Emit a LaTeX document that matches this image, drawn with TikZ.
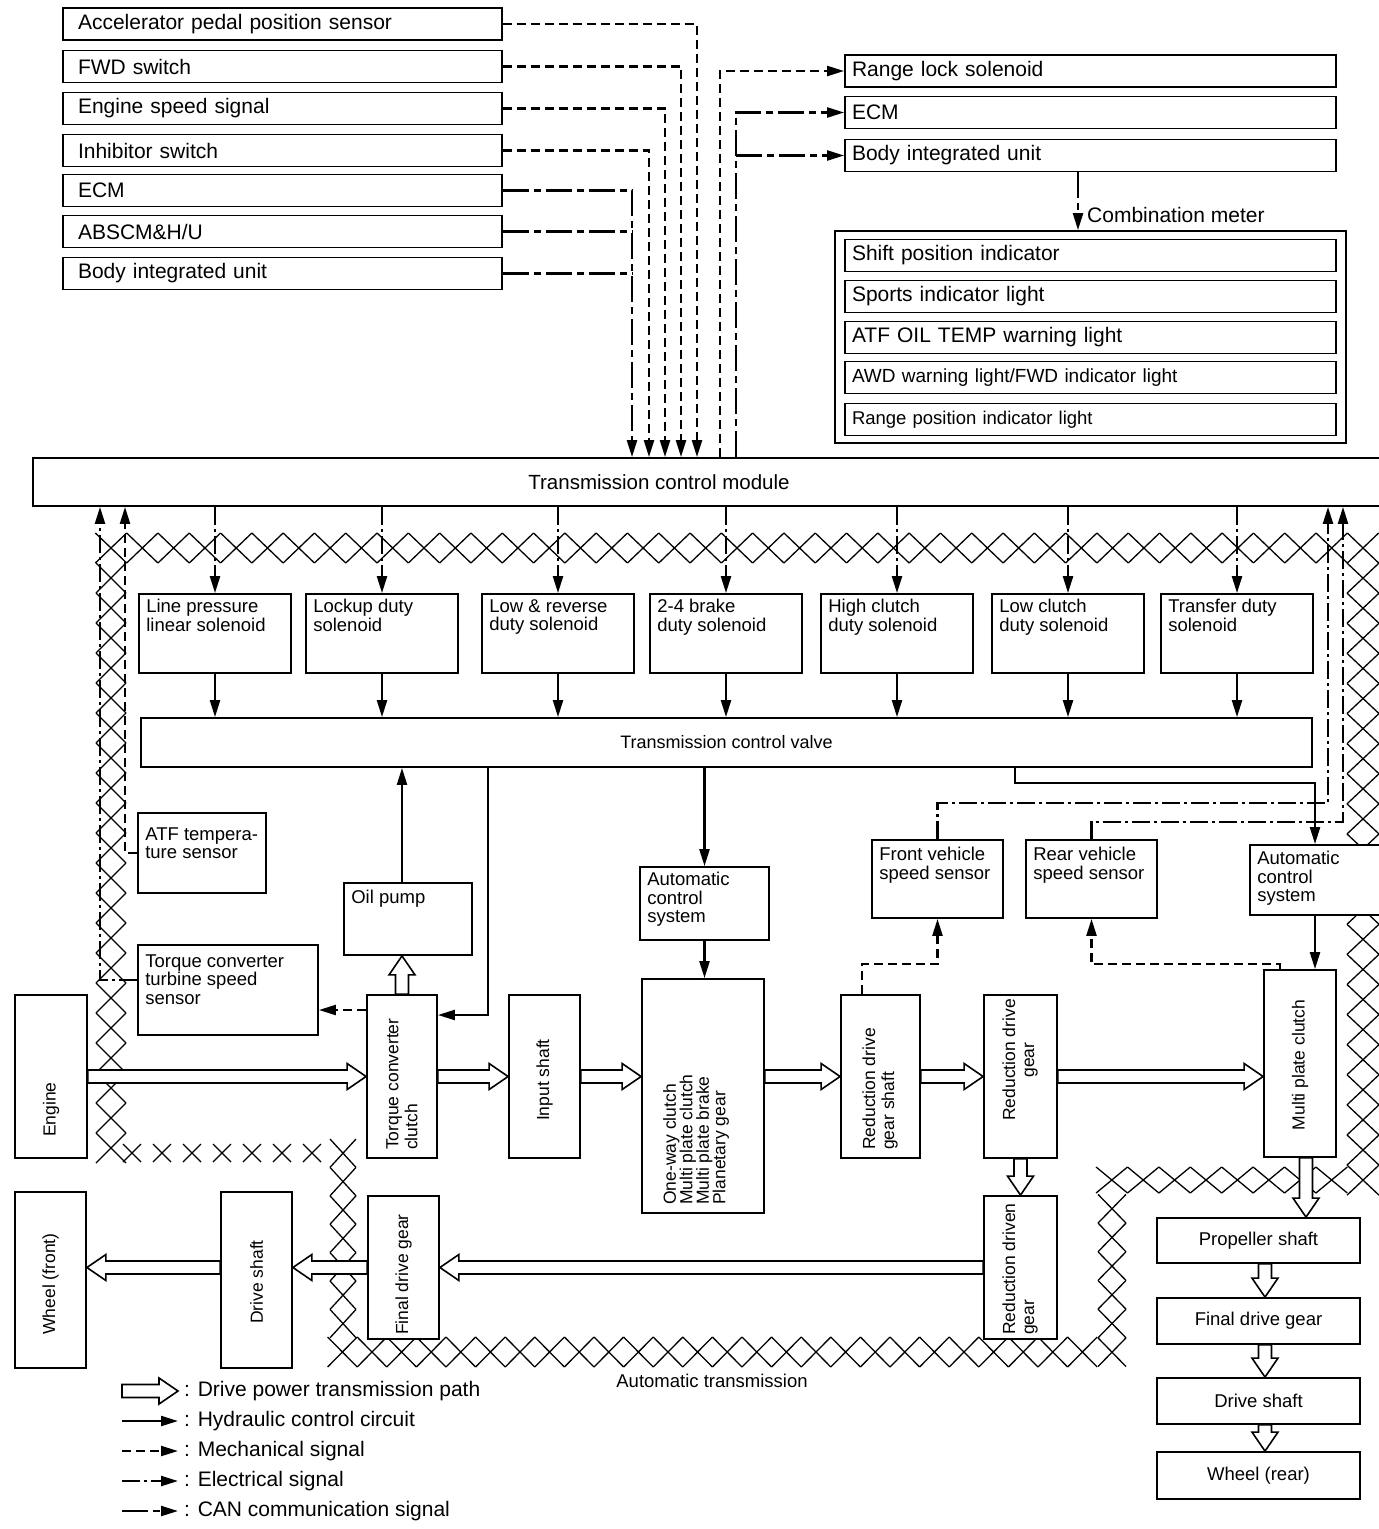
\documentclass[tikz,border=0pt]{standalone}
\usepackage{fontspec}
\setmainfont{Liberation Sans}
\usetikzlibrary{arrows.meta,calc}

\newcommand{\fbig}{\fontsize{21}{24}\selectfont}
\newcommand{\ftcm}{\fontsize{20.5}{23}\selectfont}
\newcommand{\fmid}{\fontsize{18.5}{18.5}\selectfont}
\newcommand{\fval}{\fontsize{18}{20}\selectfont}
\newcommand{\frot}{\fontsize{17.5}{19}\selectfont}
\newcommand{\fsmall}{\fontsize{19}{21}\selectfont}

% fila de cruces del rayado: inicio, paso, numero, semiancho
\newcommand{\hatchrow}[7]{%
  \foreach \k in {0,...,#5}
    \draw[hatch] ({#1+\k*#3-#6},{#2+\k*#4-#7}) -- ({#1+\k*#3+#6},{#2+\k*#4+#7})
                 ({#1+\k*#3-#6},{#2+\k*#4+#7}) -- ({#1+\k*#3+#6},{#2+\k*#4-#7});}

\begin{document}
\begin{tikzpicture}[x=1pt, y=-1pt,
    % estilos de cajas
    box/.style={draw, line width=1.8pt, fill=white, inner sep=0pt},
    inbox/.style={box, minimum height=32pt, text width=409pt, inner xsep=15pt, align=left, font=\fbig},
    outbox/.style={box, minimum height=32pt, text width=477pt, inner xsep=7pt, align=left, font=\fbig},
    sol/.style={box, minimum width=152pt, minimum height=79pt},
    lbltext/.style={anchor=north west, align=left, font=\fmid, inner xsep=8pt, inner ysep=6pt},
    lbl/.style={label={[lbltext]north west:#1}},
    vtext/.style={rotate=90, align=left, font=\frot, inner sep=0pt},
    % estilos de flechas
    hyd/.style={line width=2.3pt, -{Triangle[length=17pt,width=10pt]}},
    mech/.style={hyd, dash pattern=on 9pt off 5pt},
    elec/.style={hyd, dash pattern=on 18pt off 4pt on 3pt off 4pt},
    can/.style={hyd, dash pattern=on 26pt off 5pt on 7pt off 5pt},
    power/.style={draw, fill=white, line width=1.6pt, to path={
        let \p1=(\tikztostart), \p2=(\tikztotarget), \p3=($(\p2)!19pt!(\p1)$) in
        ($(\p1)!6.5pt!90:(\p2)$) -- ($(\p3)!6.5pt!90:(\p2)$) -- ($(\p3)!13pt!90:(\p2)$)
        -- (\p2) -- ($(\p3)!13pt!-90:(\p2)$) -- ($(\p3)!6.5pt!-90:(\p2)$)
        -- ($(\p1)!6.5pt!-90:(\p2)$) -- cycle}},
    hatch/.style={line width=1.3pt}
  ]
  \useasboundingbox (0,0) rectangle (1379,1529);

  % 1. Carcasa de la transmision (rayado)
  \hatchrow{111}{548}{31.3}{0}{40}{15.65}{15}
  \hatchrow{111}{578}{0}{30}{19}{15}{15}
  \hatchrow{1363}{578.1}{0}{30.1}{20}{16}{15.05}
  \hatchrow{1331.6}{1180}{-31.4}{0}{7}{15.7}{13}
  \hatchrow{1112}{1208.7}{0}{28.7}{5}{14}{14.35}
  \hatchrow{1082.4}{1352}{-29.6}{0}{25}{14.8}{15}
  \hatchrow{343}{1323.6}{0}{-28.4}{6}{13}{14.2}
  \hatchrow{132}{1153}{30}{0}{6}{9}{9}

  % 2. Entradas del TCM
  \node[inbox] (acc)    at (282.5,24)    {Accelerator pedal position sensor};
  \node[inbox] (fwd)    at (282.5,66.5)  {FWD switch};
  \node[inbox] (engsig) at (282.5,108.5) {Engine speed signal};
  \node[inbox] (inhib)  at (282.5,150.5) {Inhibitor switch};
  \node[inbox] (ecmin)  at (282.5,190.5) {ECM};
  \node[inbox] (abs)    at (282.5,231.5) {ABSCM\&H/U};
  \node[inbox] (bodyin) at (282.5,273.5) {Body integrated unit};

  % 3. Salidas del TCM y cuadro de instrumentos
  \node[outbox] (rls)     at (1090.5,71)    {Range lock solenoid};
  \node[outbox] (ecmout)  at (1090.5,112.5) {ECM};
  \node[outbox] (bodyout) at (1090.5,155.5) {Body integrated unit};
  \node[font=\fbig, anchor=west, inner sep=0pt] (cmt) at (1087,215) {Combination meter};
  \node[box, minimum width=511pt, minimum height=212pt] (cmf) at (1090.5,337) {};
  \node[outbox] (spi)  at (1090.5,255.5) {Shift position indicator};
  \node[outbox] (sil)  at (1090.5,296.5) {Sports indicator light};
  \node[outbox] (atfw) at (1090.5,337.5) {ATF OIL TEMP warning light};
  \node[outbox, font=\fsmall] (awd) at (1090.5,377.5) {AWD warning light/FWD indicator light};
  \node[outbox, font=\fmid]   (rpi) at (1090.5,419.5) {Range position indicator light};

  % 4. TCM, solenoides y valvula
  \node[box, minimum width=1357pt, minimum height=48pt,
        label={[font=\ftcm, xshift=-52.5pt]center:Transmission control module}] (tcm) at (711.5,482) {};
  \node[sol, lbl={Line pressure\\linear solenoid}] (lps) at (215,633.5) {};
  \node[sol, lbl={Lockup duty\\solenoid}]          (lus) at (382,633.5) {};
  \node[sol, lbl={Low \& reverse\\duty solenoid}]  (lrs) at (558,633.5) {};
  \node[sol, lbl={2-4 brake\\duty solenoid}]       (bks) at (726,633.5) {};
  \node[sol, lbl={High clutch\\duty solenoid}]     (hcs) at (897,633.5) {};
  \node[sol, lbl={Low clutch\\duty solenoid}]      (lcs) at (1068,633.5) {};
  \node[sol, lbl={Transfer duty\\solenoid}]        (tds) at (1237,633.5) {};
  \node[box, minimum width=1171pt, minimum height=49pt, font=\fval] (tcv) at (726.5,742.5) {Transmission control valve};

  % 5. Sensores y sistemas de control
  \node[box, minimum width=128pt, minimum height=80pt,
        label={[lbltext, inner ysep=15pt]north west:ATF tempera-\\ture sensor}] (atf) at (202,853) {};
  \node[box, minimum width=180pt, minimum height=90pt,
        label={[lbltext, inner ysep=10pt]north west:Torque converter\\turbine speed\\sensor}] (tts) at (228,990) {};
  \node[box, minimum width=128pt, minimum height=72pt,
        label={[lbltext, inner ysep=8pt]north west:Oil pump}] (oilp) at (408,919) {};
  \node[box, minimum width=129pt, minimum height=73pt,
        lbl={Automatic\\control\\system}] (acsm) at (704.5,903.5) {};
  \node[box, minimum width=131pt, minimum height=78pt,
        label={[lbltext, inner ysep=8pt]north west:Front vehicle\\speed sensor}] (fvs) at (937.5,879) {};
  \node[box, minimum width=131pt, minimum height=78pt,
        label={[lbltext, inner ysep=8pt]north west:Rear vehicle\\speed sensor}] (rvs) at (1091.5,879) {};
  \node[box, minimum width=130pt, minimum height=70pt,
        label={[lbltext, inner ysep=7pt]north west:Automatic\\control\\system}] (acsr) at (1315,880) {};

  % 6. Tren de potencia
  \node[box, minimum width=72pt, minimum height=163pt]  (eng)  at (51,1076.5) {};
  \node[box, minimum width=70pt, minimum height=163pt]  (tc)   at (402,1076.5) {};
  \node[box, minimum width=71pt, minimum height=163pt]  (inp)  at (544.5,1076.5) {};
  \node[box, minimum width=122pt, minimum height=234pt] (owc)  at (703,1096) {};
  \node[box, minimum width=79pt, minimum height=163pt]  (rdgs) at (880.5,1076.5) {};
  \node[box, minimum width=73pt, minimum height=163pt]  (rdg)  at (1020.5,1076.5) {};
  \node[box, minimum width=72pt, minimum height=187pt]  (mpc)  at (1300,1063.5) {};
  \node[box, minimum width=71pt, minimum height=176pt]  (wf)   at (50.5,1280) {};
  \node[box, minimum width=71pt, minimum height=176pt]  (dsf)  at (256.5,1280) {};
  \node[box, minimum width=71pt, minimum height=143pt]  (fdg)  at (403.5,1267.5) {};
  \node[box, minimum width=73pt, minimum height=143pt]  (rdng) at (1020.5,1267.5) {};
  \node[box, minimum width=203pt, minimum height=45pt, font=\fmid] (ps)   at (1258.5,1240.5) {Propeller shaft};
  \node[box, minimum width=203pt, minimum height=46pt, font=\fmid] (fdgr) at (1258.5,1321) {Final drive gear};
  \node[box, minimum width=203pt, minimum height=46pt, font=\fmid] (dsr)  at (1258.5,1401) {Drive shaft};
  \node[box, minimum width=203pt, minimum height=47pt, font=\fmid] (wr)   at (1258.5,1475.5) {Wheel (rear)};

  % textos girados
  \node[vtext, anchor=west] (engt)  at (51,1137)   {Engine};
  \node[vtext, anchor=west] (tct)   at (402,1150)  {Torque converter\\clutch};
  \node[vtext]              (inpt)  at (544.5,1080) {Input shaft};
  \node[vtext, anchor=west, font=\fontsize{17.5}{16.5}\selectfont] (owct) at (696,1205)
       {One-way clutch\\Multi plate clutch\\Multi plate brake\\Planetary gear};
  \node[vtext, anchor=west] (rdgst) at (880,1150)  {Reduction drive\\gear shaft};
  \node[vtext, align=center] (rdgt) at (1020,1060) {Reduction drive\\gear};
  \node[vtext]              (mpct)  at (1300,1065) {Multi plate clutch};
  \node[vtext]              (wft)   at (50.5,1284) {Wheel (front)};
  \node[vtext]              (dsft)  at (256.5,1282) {Drive shaft};
  \node[vtext, anchor=west] (fdgt)  at (403.5,1335) {Final drive gear};
  \node[vtext, anchor=west] (rdngt) at (1020,1335)  {Reduction driven\\gear};
  \node[font=\fmid, inner sep=0pt] (att) at (712,1381) {Automatic transmission};

  % 7. Conexiones de senales de entrada
  \draw[mech] (acc.east) -| (697,0 |- tcm.north);
  \draw[mech] (fwd.east) -| (681,0 |- tcm.north);
  \draw[mech] (engsig.east) -| (665,0 |- tcm.north);
  \draw[mech] (inhib.east) -| (649,0 |- tcm.north);
  \draw[can] (ecmin.east) -| (632,0 |- tcm.north);
  \draw[can, -] (abs.east) -- (abs.east -| 632,0);
  \draw[can, -] (bodyin.east) -- (bodyin.east -| 632,0);

  % Conexiones de salida
  \draw[mech] (720,0 |- tcm.north) |- (rls.west);
  \draw[can] (736,0 |- tcm.north) |- (ecmout.west);
  \draw[can] (bodyout.west -| 736,0) -- (bodyout.west);
  \draw[can] (bodyout.south -| 1078,0) -- (cmf.north -| 1078,0);

  % TCM a solenoides y solenoides a la valvula
  \foreach \s in {lps,lus,lrs,bks,hcs,lcs,tds}{
    \draw[elec] (tcm.south -| \s) -- (\s.north);
    \draw[hyd] (\s.south) -- (\s.south |- tcv.north);
  }

  % Sensores al TCM
  \draw[mech] (atf.west) -| (125,0 |- tcm.south);
  \draw[elec] (tts.west |- 0,980) -| (100,0 |- tcm.south);
  \draw[elec] (fvs.north) |- (1328,803) -- (1328,0 |- tcm.south);
  \draw[elec] (rvs.north) |- (1343,822) -- (1343,0 |- tcm.south);

  % Circuito hidraulico
  \draw[hyd] (tc |- oilp.north) -- (tc |- tcv.south);
  \draw[hyd] (488,0 |- tcv.south) |- (tc.east |- 0,1015);
  \draw[hyd] (acsm.north |- tcv.south) -- (acsm.north);
  \draw[hyd] (acsm.south) -- (acsm.south |- owc.north);
  \draw[hyd] (1015,0 |- tcv.south) |- (acsr.north |- 0,783) -- (acsr.north);
  \draw[hyd] (acsr.south) -- (acsr.south |- mpc.north);

  % Senales mecanicas
  \draw[mech] (tc.west |- 0,1010) -- (tts.east |- 0,1010);
  \draw[mech] (862,0 |- rdgs.north) |- (fvs.south |- 0,964) -- (fvs.south);
  \draw[mech] (1280,0 |- mpc.north) |- (rvs.south |- 0,964) -- (rvs.south);

  % Transmision de potencia
  \draw[power] (tc.north) to (tc.north |- oilp.south);
  \draw[power] (eng.east) to (tc.west);
  \draw[power] (tc.east) to (inp.west);
  \draw[power] (inp.east) to (owc.west |- inp.east);
  \draw[power] (owc.east |- rdgs.west) to (rdgs.west);
  \draw[power] (rdgs.east) to (rdg.west);
  \draw[power] (rdg.east) to (mpc.west |- rdg.east);
  \draw[power] (rdg.south) to (rdng.north);
  \draw[power] (rdng.west) to (fdg.east);
  \draw[power] (fdg.west) to (dsf.east |- fdg.west);
  \draw[power] (dsf.west |- fdg.west) to (wf.east |- fdg.west);
  \draw[power] (mpc.south -| 1306,0) to (ps.north -| 1306,0);
  \draw[power] (ps.south -| 1265,0) to (fdgr.north -| 1265,0);
  \draw[power] (fdgr.south -| 1265,0) to (dsr.north -| 1265,0);
  \draw[power] (dsr.south -| 1265,0) to (wr.north -| 1265,0);

  % 8. Leyenda
  \foreach \st/\txt [count=\i] in {power/Drive power transmission path, hyd/Hydraulic control circuit,
      mech/Mechanical signal, elec/Electrical signal, can/CAN communication signal}{
    \coordinate (lga\i) at (122,1361+30*\i);
    \coordinate (lgb\i) at (178,1361+30*\i);
    \draw[\st] (lga\i) to (lgb\i);
    \node[font=\fbig, anchor=west, inner sep=0pt] (lgt\i) at (184,1361+30*\i) {: \txt};
  }
\end{tikzpicture}
\end{document}
